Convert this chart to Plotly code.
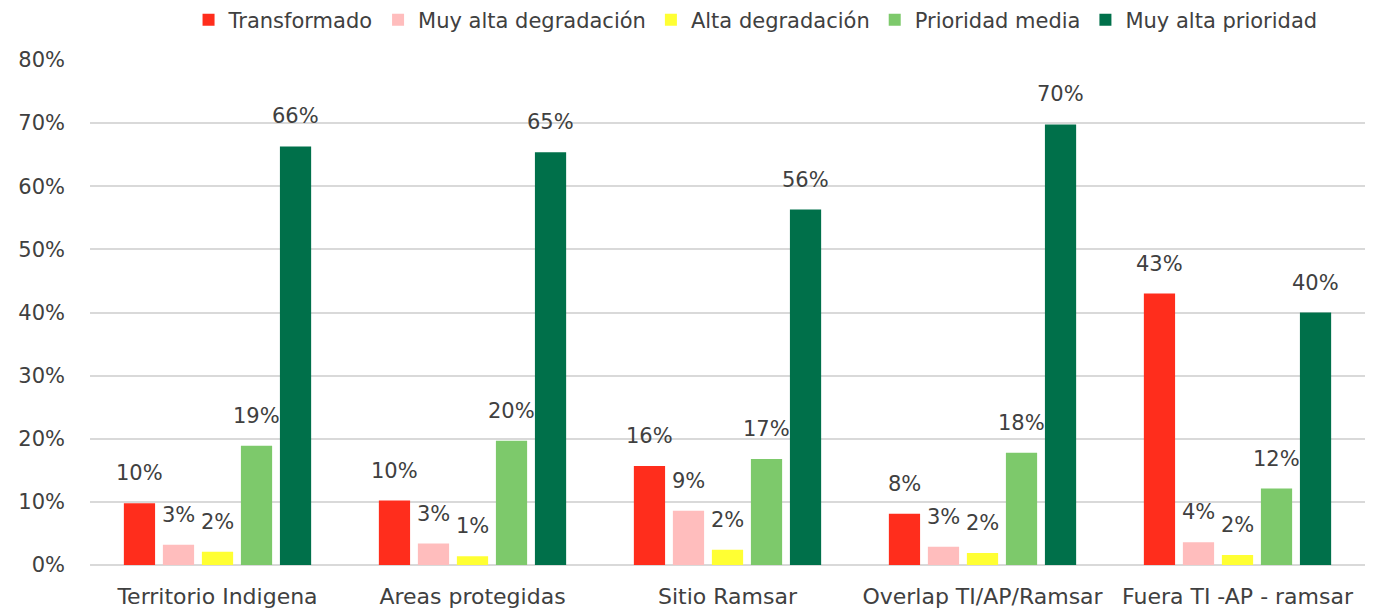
import plotly.graph_objects as go

categorias = ["Territorio Indigena", "Areas protegidas", "Sitio Ramsar",
              "Overlap TI/AP/Ramsar", "Fuera TI -AP - ramsar"]

series = ["Transformado", "Muy alta degradación", "Alta degradación",
          "Prioridad media", "Muy alta prioridad"]

transformado = [9.8, 10.2, 15.7, 8.1, 43.0]
muy_alta_degradacion = [3.2, 3.4, 8.6, 2.9, 3.6]
alta_degradacion = [2.1, 1.4, 2.4, 1.9, 1.6]
prioridad_media = [18.9, 19.7, 16.8, 17.8, 12.1]
muy_alta_prioridad = [66.3, 65.4, 56.3, 69.8, 40.0]

colores = ["#FF2D1C", "#FFBDBD", "#FFFF33", "#7DC96B", "#00704A"]

valores = [transformado, muy_alta_degradacion, alta_degradacion,
           prioridad_media, muy_alta_prioridad]

fuente = "DejaVu Sans"
gris = "#404040"

bargap = 0.235
slot = (1 - bargap) / len(series)

fig = go.Figure()
for i, (nombre, vals, color) in enumerate(zip(series, valores, colores)):
    fig.add_trace(go.Bar(
        name=nombre,
        x=categorias,
        y=vals,
        marker=dict(color=color, line=dict(width=0)),
    ))
    # etiquetas de datos, algo separadas de la barra
    for j, v in enumerate(vals):
        fig.add_annotation(
            x=j + (i - 2) * slot, y=v, xref="x", yref="y",
            text=f"{round(v):.0f}%", showarrow=False,
            yshift=30, yanchor="middle",
            font=dict(family=fuente, size=21, color=gris),
        )

# la página añade 8px de margen al cuerpo, se compensa aquí
fig.update_layout(
    width=1376, height=610,
    barmode="group", bargap=bargap, bargroupgap=0.2,
    plot_bgcolor="white", paper_bgcolor="white",
    margin=dict(l=82, r=19, t=52, b=53, autoexpand=False),
    font=dict(family=fuente, size=21, color=gris),
    showlegend=True,
    legend=dict(orientation="h", x=0.522, xanchor="center",
                y=1.079, yanchor="middle", yref="paper",
                font=dict(family=fuente, size=21, color=gris),
                itemwidth=30, traceorder="normal"),
)

fig.update_xaxes(showline=False, ticks="", tickfont=dict(size=22, color=gris),
                 ticklabelstandoff=16)
fig.update_yaxes(range=[0, 80], dtick=10, ticksuffix="%",
                 gridcolor="#D9D9D9", gridwidth=1.5,
                 zeroline=True, zerolinecolor="#D9D9D9", zerolinewidth=1.5,
                 tickfont=dict(size=21, color=gris), ticklabelstandoff=24)

fig.write_html("out.html")
